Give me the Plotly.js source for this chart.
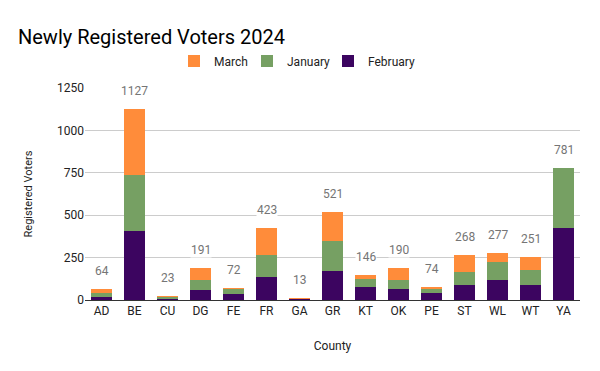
<!DOCTYPE html>
<html><head><meta charset="utf-8">
<script src="https://cdn.plot.ly/plotly-3.0.1.min.js"></script>
<style>html,body{margin:0;padding:0;background:#fff}#chart{width:600px;height:371px}</style>
</head><body><div id="chart"></div>
<script>
const counties = ["AD","BE","CU","DG","FE","FR","GA","GR","KT","OK","PE","ST","WL","WT","YA"];
const february = [20,408,8,59,38,136,7,172,77,65,41,89,118,89,426];
const january  = [23,332,12,61,27,130,1,177,47,55,22,77,107,89,355];
const march    = [21,387,3,71,7,157,5,172,22,70,11,102,52,73,0];
const yTicks = [0,250,500,750,1000,1250];

const totals = counties.map((c,i)=>february[i]+january[i]+march[i]);

const font = "Roboto, Arial, sans-serif";
const traces = [
  {type:"bar", name:"February", x:counties, y:february, marker:{color:"#3c0560"}, legend:"legend3", hoverinfo:"x+y+name"},
  {type:"bar", name:"January",  x:counties, y:january,  marker:{color:"#76a063"}, legend:"legend2", hoverinfo:"x+y+name"},
  {type:"bar", name:"March",    x:counties, y:march,    marker:{color:"#ff8c3a"}, legend:"legend", hoverinfo:"x+y+name"}
];
const annotations = counties.map((c,i)=>({
  x:c, y:totals[i], xref:"x", yref:"y", text:String(totals[i]), showarrow:false,
  yshift:18, font:{family:font, size:12, color:"#757575"}, bgcolor:"#ffffff", borderpad:0
}));
function legendAt(px){
  return {orientation:"h", x:px/600, xref:"container", xanchor:"left",
          y:1-61/371, yref:"container", yanchor:"middle",
          font:{family:font, size:12, color:"#222"}, itemwidth:30, bgcolor:"rgba(0,0,0,0)"};
}
const layout = {
  width:600, height:371,
  margin:{l:85, r:20, t:88, b:71},
  paper_bgcolor:"#fff", plot_bgcolor:"#fff",
  font:{family:font, size:12, color:"#222"},
  title:{text:"Newly Registered Voters 2024", x:18/600, xref:"container", xanchor:"left",
         y:1-37/371, yref:"container", yanchor:"middle", font:{family:font, size:20, color:"#000"}},
  barmode:"stack", bargap:0.36,
  showlegend:true,
  legend:legendAt(174), legend2:legendAt(247), legend3:legendAt(328),
  xaxis:{title:{text:"County", font:{family:font, size:12, color:"#222"}, standoff:24},
         tickfont:{family:font, size:12, color:"#222"}, showgrid:false,
         showline:true, linecolor:"#333", linewidth:1, ticks:""},
  yaxis:{title:{text:"Registered Voters", font:{family:font, size:11, color:"#222"}, standoff:22},
         range:[0,1250], tickvals:yTicks, ticktext:yTicks.map(String),
         tickfont:{family:font, size:12, color:"#222"}, gridcolor:"#cccccc", gridwidth:1,
         zeroline:true, zerolinecolor:"#333", zerolinewidth:1, ticks:"", ticklen:0},
  annotations:annotations
};
Plotly.newPlot("chart", traces, layout, {displayModeBar:false, staticPlot:true});
</script></body></html>
